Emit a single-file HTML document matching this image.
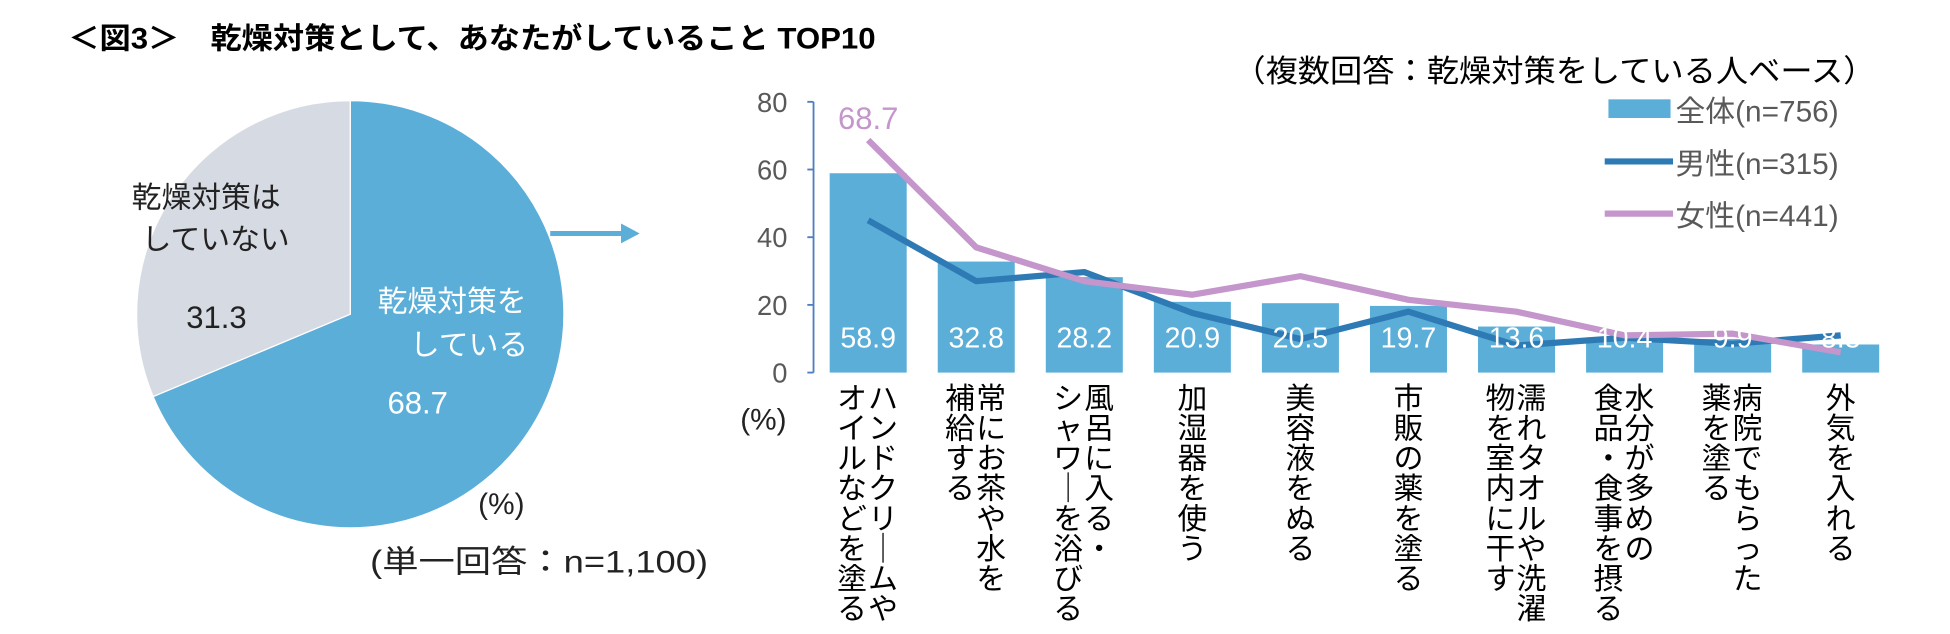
<!DOCTYPE html>
<html><head><meta charset="utf-8"><style>
html,body{margin:0;padding:0;background:#fff;}
svg{display:block;font-family:"Liberation Sans","Noto Sans CJK JP",sans-serif;}
</style></head><body>
<svg id="chart" width="1950" height="634" viewBox="0 0 1570 510.5" preserveAspectRatio="none" xmlns="http://www.w3.org/2000/svg">
<text x="55" y="39" font-size="24" font-weight="bold" fill="#000" textLength="650" lengthAdjust="spacingAndGlyphs">＜図3＞　乾燥対策として、あなたがしていること TOP10</text>
<text x="993" y="66" font-size="25" fill="#000" textLength="517" lengthAdjust="spacingAndGlyphs">（複数回答：乾燥対策をしている人ベース）</text>
<g id="pie"></g>
<text x="106" y="167" font-size="24" fill="#222">乾燥対策は</text>
<text x="114" y="201" font-size="24" fill="#222">していない</text>
<text x="150" y="264" font-size="25" fill="#222">31.3</text>
<text x="304" y="251" font-size="24" fill="#fff">乾燥対策を</text>
<text x="330" y="286" font-size="24" fill="#fff">している</text>
<text x="312" y="333" font-size="25" fill="#fff">68.7</text>
<text x="385" y="414" font-size="24" fill="#222">(%)</text>
<text x="298" y="461" font-size="25" fill="#222" textLength="272" lengthAdjust="spacingAndGlyphs">(単一回答：n=1,100)</text>
<g>
<line x1="443" y1="188" x2="503" y2="188" stroke="#5aaed8" stroke-width="4"/>
<polygon points="500,180 515,188 500,196" fill="#5aaed8"/>
</g>
<g id="bars"></g>
<text x="596" y="346" font-size="24" fill="#222">(%)</text>
<g>
<rect x="1295" y="80" width="50" height="15" fill="#5aaed8"/>
<text x="1349" y="98" font-size="24" fill="#595959">全体(n=756)</text>
<line x1="1292" y1="130" x2="1347" y2="130" stroke="#2e7ab5" stroke-width="5"/>
<text x="1349" y="140" font-size="24" fill="#595959">男性(n=315)</text>
<line x1="1292" y1="172" x2="1347" y2="172" stroke="#c496cc" stroke-width="5"/>
<text x="1349" y="182" font-size="24" fill="#595959">女性(n=441)</text>
</g>
</svg>
<script>
const pieValues = [68.7, 31.3];
const categories = [["ハンドクリームや","オイルなどを塗る"],["常にお茶や水を","補給する"],["風呂に入る・","シャワーを浴びる"],["加湿器を使う"],["美容液をぬる"],["市販の薬を塗る"],["濡れタオルや洗濯","物を室内に干す"],["水分が多めの","食品・食事を摂る"],["病院でもらった","薬を塗る"],["外気を入れる"]];
const totalValues = [58.9,32.8,28.2,20.9,20.5,19.7,13.6,10.4,9.9,8.3];
const maleValues = [45,27,29.7,17.6,9.9,18,8,10.3,8.5,11];
const femaleValues = [68.7,37,27,23,28.5,21.5,18,11,11.5,6];
const yTicks = [0,20,40,60,80];

const NS = "http://www.w3.org/2000/svg";
function mk(tag, attrs, parent){const e=document.createElementNS(NS,tag);for(const k in attrs)e.setAttribute(k,attrs[k]);parent.appendChild(e);return e;}

const pie = document.getElementById('pie');
const cx=282, cy=253, r=172;
const pieColors=["#5aaed8","#d6dae3"];
let a0=0;
pieValues.forEach((v,i)=>{
  const a1=a0+v/100*2*Math.PI;
  const x0=cx+r*Math.sin(a0), y0=cy-r*Math.cos(a0), x1=cx+r*Math.sin(a1), y1=cy-r*Math.cos(a1);
  const p=mk('path',{d:`M${cx},${cy} L${x0},${y0} A${r},${r} 0 ${a1-a0>Math.PI?1:0} 1 ${x1},${y1} Z`,fill:pieColors[i],stroke:"#fff","stroke-width":1},pie);
  
  
  a0=a1;
});

const g=document.getElementById('bars');
const axX=655, y0px=300, y80px=82;
const yScale=v=>y0px-(v/80)*(y0px-y80px);
const x0c=699, step=87, bw=62;
const xScale=i=>x0c+i*step;
const axis=mk('line',{x1:axX,y1:y80px,x2:axX,y2:y0px,stroke:"#4f7fc0","stroke-width":1.5},g);


yTicks.forEach(t=>{
  const tk=mk('line',{x1:axX-5,y1:yScale(t),x2:axX,y2:yScale(t),stroke:"#4f7fc0","stroke-width":1.5},g);
  
  
  const tl=mk('text',{x:634,y:yScale(t)+8,"font-size":22,fill:"#595959","text-anchor":"end"},g);
  tl.textContent=t;
  
  
});
totalValues.forEach((v,i)=>{
  const b=mk('rect',{x:xScale(i)-bw/2,y:yScale(v),width:bw,height:y0px-yScale(v),fill:"#5aaed8"},g);
  
  
});
function line(vals,color,name){
  const pl=mk('polyline',{points:vals.map((v,i)=>xScale(i)+","+yScale(v)).join(" "),fill:"none",stroke:color,"stroke-width":5,"stroke-linejoin":"round"},g);
  
  
}
line(maleValues,"#2e7ab5","line-male");
line(femaleValues,"#c496cc","line-female");
totalValues.forEach((v,i)=>{
  const t=mk('text',{x:xScale(i),y:280,"font-size":23,fill:"#fff","text-anchor":"middle"},g);
  t.textContent=v.toFixed(1);
  
  
});
const fl=mk('text',{x:xScale(0),y:104,"font-size":25,fill:"#c496cc","text-anchor":"middle"},g);
fl.textContent=femaleValues[0].toFixed(1);



categories.forEach((lines,i)=>{
  const grp=mk('g',{},g);
  
  
  lines.forEach((s,j)=>{
    const colX = lines.length===1 ? xScale(i) : xScale(i)+(j===0?12:-13);
    [...s].forEach((ch,k)=>{
      const c = ch==="ー"?"｜":ch;
      const t=mk('text',{x:colX,y:329+k*24.2,"font-size":24,fill:"#000","text-anchor":"middle"},grp);
      t.textContent=c;
    });
  });
});
</script>
</body></html>
